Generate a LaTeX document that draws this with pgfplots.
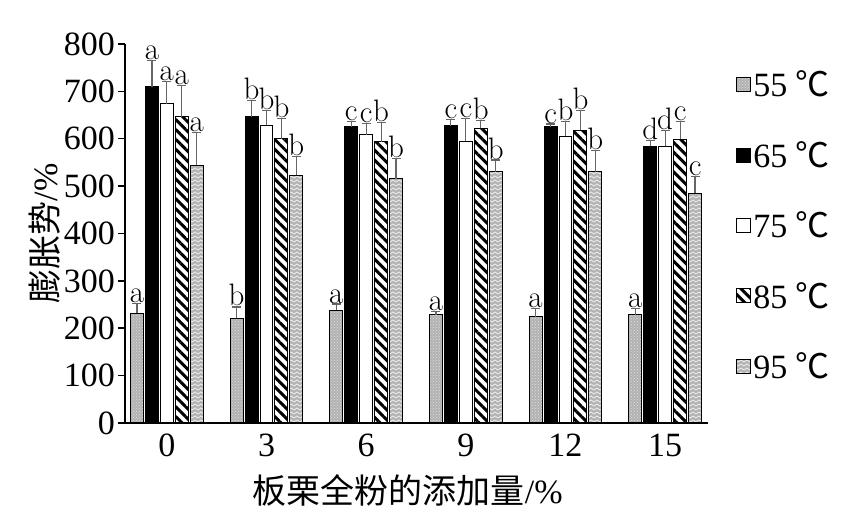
\documentclass[border=0pt]{standalone}
\usepackage{pgfplots}
\pgfplotsset{compat=1.18}
\usepackage{pgfplotstable}
\usetikzlibrary{patterns,patterns.meta}
\usepackage{fontspec}
\setmainfont{Liberation Serif}
\newfontfamily\cjk{Noto Sans CJK SC}
\newcommand\lm{\fontfamily{lmr}\selectfont}

% wavy fill used for the 95 C bars
\pgfdeclarepatternformonly{zigzag}{\pgfpoint{-1pt}{-1pt}}{\pgfpoint{7pt}{5pt}}{\pgfpoint{6pt}{4pt}}{
  \pgfsetlinewidth{0.9pt}
  \pgfpathmoveto{\pgfpoint{0pt}{0pt}}
  \pgfpathlineto{\pgfpoint{3pt}{2pt}}
  \pgfpathlineto{\pgfpoint{6pt}{0pt}}
  \pgfusepath{stroke}}

% swelling power (%) and upper error per temperature; letters = significance groups
\pgfplotstableread{
x v55 e55 l55 v65 e65 l65 v75 e75 l75 v85 e85 l85 v95 e95 l95
0 232 20 a 710 55 a 674 46 a 646 67 a 544 70 a
1 221 24 b 646 35 b 629 31 b 600 43 b 523 39 b
2 238 13 a 625 11 c 608 24 c 594 40 b 516 42 b
3 228  8 a 627 14 c 595 48 c 622 17 b 530 25 b
4 224 18 a 625  6 c 605 32 b 618 42 b 530 46 b
5 228 14 a 584 13 d 584 34 d 599 37 c 485 35 c
}\data

\newcommand\chartfont{\fontsize{34}{34}\selectfont}

\pgfplotsset{
  bx/.style={ybar, bar width=0.13, bar shift=0pt, draw=black, line width=1pt,
    error bars/y dir=plus, error bars/y explicit,
    error bars/error bar style={line width=1.2pt, draw=black!60},
    error bars/error mark options={rotate=90, mark size=4.5pt, line width=1.2pt, draw=black!60}},
  lab/.style={draw=none, mark=none, forget plot,
    nodes near coords={\pgfplotspointmeta},
    point meta=explicit symbolic,
    nodes near coords style={anchor=south, inner sep=0.5pt, font=\lm\fontsize{31}{31}\selectfont}},
  sq/.style={legend image code/.code={\draw[##1, line width=1pt] (0pt,-7pt) rectangle (14pt,7pt);}},
}

\begin{document}
\begin{tikzpicture}
\begin{axis}[
  at={(0,0)}, anchor=south west,
  scale only axis, width=583pt, height=379pt,
  xmin=-0.42, xmax=5.43, ymin=0, ymax=800,
  axis lines*=left,
  axis line style={line width=1.5pt, black},
  ytick={0,100,...,800},
  xtick={0,...,5},
  xticklabels={0,3,6,9,12,15},
  x tick style={draw=none},
  y tick style={line width=1.5pt, black},
  tick align=outside,
  major tick length=7pt,
  /pgf/number format/assume math mode=true,
  tick label style={font=\chartfont},
  yticklabel style={inner sep=3pt},
  xticklabel style={inner sep=4pt},
  label style={font=\chartfont},
  ylabel={{\cjk 膨胀势}/\%},
  ylabel style={at={(axis description cs:-0.137,0.5)}, anchor=center},
  xlabel={{\cjk 板栗全粉的添加量}/\%},
  xlabel style={at={(axis description cs:0.485,-0.177)}, anchor=center},
  legend style={draw=none, fill=none, at={(1.043,0.94)}, anchor=north west,
    font=\chartfont, row sep=39pt},
  legend cell align=left,
]
\addplot[bx, sq, fill=gray!60, postaction={pattern=crosshatch dots, pattern color=gray!25}]
  table[x expr=\thisrow{x}-0.30, y=v55, y error plus=e55]{\data};
\addlegendentry{55 {\cjk ℃}}
\addplot[bx, sq, fill=black]
  table[x expr=\thisrow{x}-0.15, y=v65, y error plus=e65]{\data};
\addlegendentry{65 {\cjk ℃}}
\addplot[bx, sq, fill=white]
  table[x expr=\thisrow{x}, y=v75, y error plus=e75]{\data};
\addlegendentry{75 {\cjk ℃}}
\addplot[bx, sq, fill=white, postaction={pattern={Lines[angle=-45, distance=7pt, line width=3pt]}, pattern color=black}]
  table[x expr=\thisrow{x}+0.15, y=v85, y error plus=e85]{\data};
\addlegendentry{85 {\cjk ℃}}
\addplot[bx, sq, fill=gray!60, postaction={pattern=zigzag, pattern color=gray!15}]
  table[x expr=\thisrow{x}+0.30, y=v95, y error plus=e95]{\data};
\addlegendentry{95 {\cjk ℃}}

\addplot[lab] table[x expr=\thisrow{x}-0.30, y expr=\thisrow{v55}+\thisrow{e55}, meta=l55]{\data};
\addplot[lab] table[x expr=\thisrow{x}-0.15, y expr=\thisrow{v65}+\thisrow{e65}, meta=l65]{\data};
\addplot[lab] table[x expr=\thisrow{x}, y expr=\thisrow{v75}+\thisrow{e75}, meta=l75]{\data};
\addplot[lab] table[x expr=\thisrow{x}+0.15, y expr=\thisrow{v85}+\thisrow{e85}, meta=l85]{\data};
\addplot[lab] table[x expr=\thisrow{x}+0.30, y expr=\thisrow{v95}+\thisrow{e95}, meta=l95]{\data};
\end{axis}
\path[use as bounding box] (-125pt,-95pt) rectangle (717pt,423pt);
\end{tikzpicture}
\end{document}
